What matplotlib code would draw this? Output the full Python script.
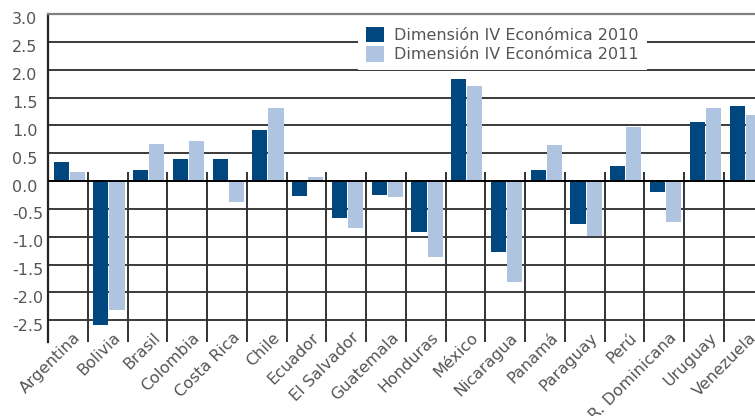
import matplotlib
matplotlib.use("Agg")
import matplotlib.pyplot as plt
import matplotlib.transforms as mtransforms
from matplotlib.patches import Patch
import numpy as np

countries = ["Argentina", "Bolivia", "Brasil", "Colombia", "Costa Rica", "Chile",
             "Ecuador", "El Salvador", "Guatemala", "Honduras", "México", "Nicaragua",
             "Panamá", "Paraguay", "Perú", "R. Dominicana", "Uruguay", "Venezuela"]
values_2010 = [0.34, -2.59, 0.20, 0.40, 0.40, 0.92, -0.26, -0.66, -0.25, -0.92,
               1.83, -1.28, 0.20, -0.77, 0.27, -0.20, 1.06, 1.35]
values_2011 = [0.16, -2.32, 0.66, 0.72, -0.38, 1.31, 0.07, -0.84, -0.28, -1.37,
               1.71, -1.81, 0.65, -0.99, 0.97, -0.74, 1.31, 1.19]
series_labels = ["Dimensión IV Económica 2010", "Dimensión IV Económica 2011"]
ytick_values = [-2.5, -2.0, -1.5, -1.0, -0.5, 0.0, 0.5, 1.0, 1.5, 2.0, 2.5, 3.0]
ytick_labels = ["-2.5", "-2.0", "-1.5", "-1.0", "-0.5", "0.0", "0.5", "1.0", "1.5", "2.0", "2.5", "3.0"]

DARK = "#00477F"
LIGHT = "#AFC4E1"
TEXT = "#555555"

W, H = 755, 416
fig = plt.figure(figsize=(W / 100, H / 100), dpi=100)
left, right, top, bottom = 48, 763.7, 14, 342
ax = fig.add_axes([left / W, 1 - bottom / H, (right - left) / W, (bottom - top) / H])

n = len(countries)
x = np.arange(n)
bw = 0.38
ax.bar(x - 0.36, values_2010, width=bw, align="edge", color=DARK, zorder=3, linewidth=0)
ax.bar(x + 0.045, values_2011, width=bw, align="edge", color=LIGHT, zorder=3, linewidth=0)

ax.set_xlim(-0.5, n - 0.5)
ax.set_ylim(-2.89, 3.0)

# horizontal grid lines
for v in ytick_values[:-1]:
    ax.axhline(v, color="#3a3a3a" if v != 0 else "#000000", lw=1.4, zorder=2 if v != 0 else 4)
# category separators
ax.vlines(x[:-1] + 0.5, -2.89, 0.16, color="#333333", lw=1.4, zorder=2)

for s in ["right", "bottom"]:
    ax.spines[s].set_visible(False)
ax.spines["top"].set_color("#808080")
ax.spines["top"].set_linewidth(1.6)
ax.spines["left"].set_color("#222222")
ax.spines["left"].set_linewidth(1.6)

ax.set_xticks(x)
ax.set_xticklabels([])
ax.set_yticks(ytick_values)
ax.set_yticklabels([])
ax.tick_params(length=0)

# y tick labels (left aligned, slightly below their lines)
ytrans = mtransforms.blended_transform_factory(ax.transAxes, ax.transData) + \
    mtransforms.ScaledTranslation(-0.36, -0.06, fig.dpi_scale_trans)
for v, s in zip(ytick_values, ytick_labels):
    ax.text(0, v, s, transform=ytrans, ha="left", va="center", fontsize=11.5,
            color=TEXT, clip_on=False)

# x tick labels (rotated 45°)
xtrans = mtransforms.blended_transform_factory(ax.transData, ax.transAxes) + \
    mtransforms.ScaledTranslation(0.05, 0.12, fig.dpi_scale_trans)
for xi, s in zip(x, countries):
    ax.text(xi, 0, s, transform=xtrans, ha="right", va="top", rotation=45,
            rotation_mode="anchor", fontsize=11.5, color=TEXT, clip_on=False)

handles = [Patch(facecolor=DARK, edgecolor="none"), Patch(facecolor=LIGHT, edgecolor="none")]
leg = ax.legend(handles, series_labels, loc="upper left",
                bbox_to_anchor=((358 - left) / (right - left), 1 - (19 - top) / (bottom - top)),
                frameon=True, fancybox=False, framealpha=1, facecolor="white", edgecolor="none",
                fontsize=11.5, handlelength=1.1, handleheight=1.1, handletextpad=0.65,
                labelspacing=0.2, borderpad=0.5, borderaxespad=0)
for t in leg.get_texts():
    t.set_color(TEXT)
leg.set_zorder(5)

fig.savefig("out.png", dpi=100)
